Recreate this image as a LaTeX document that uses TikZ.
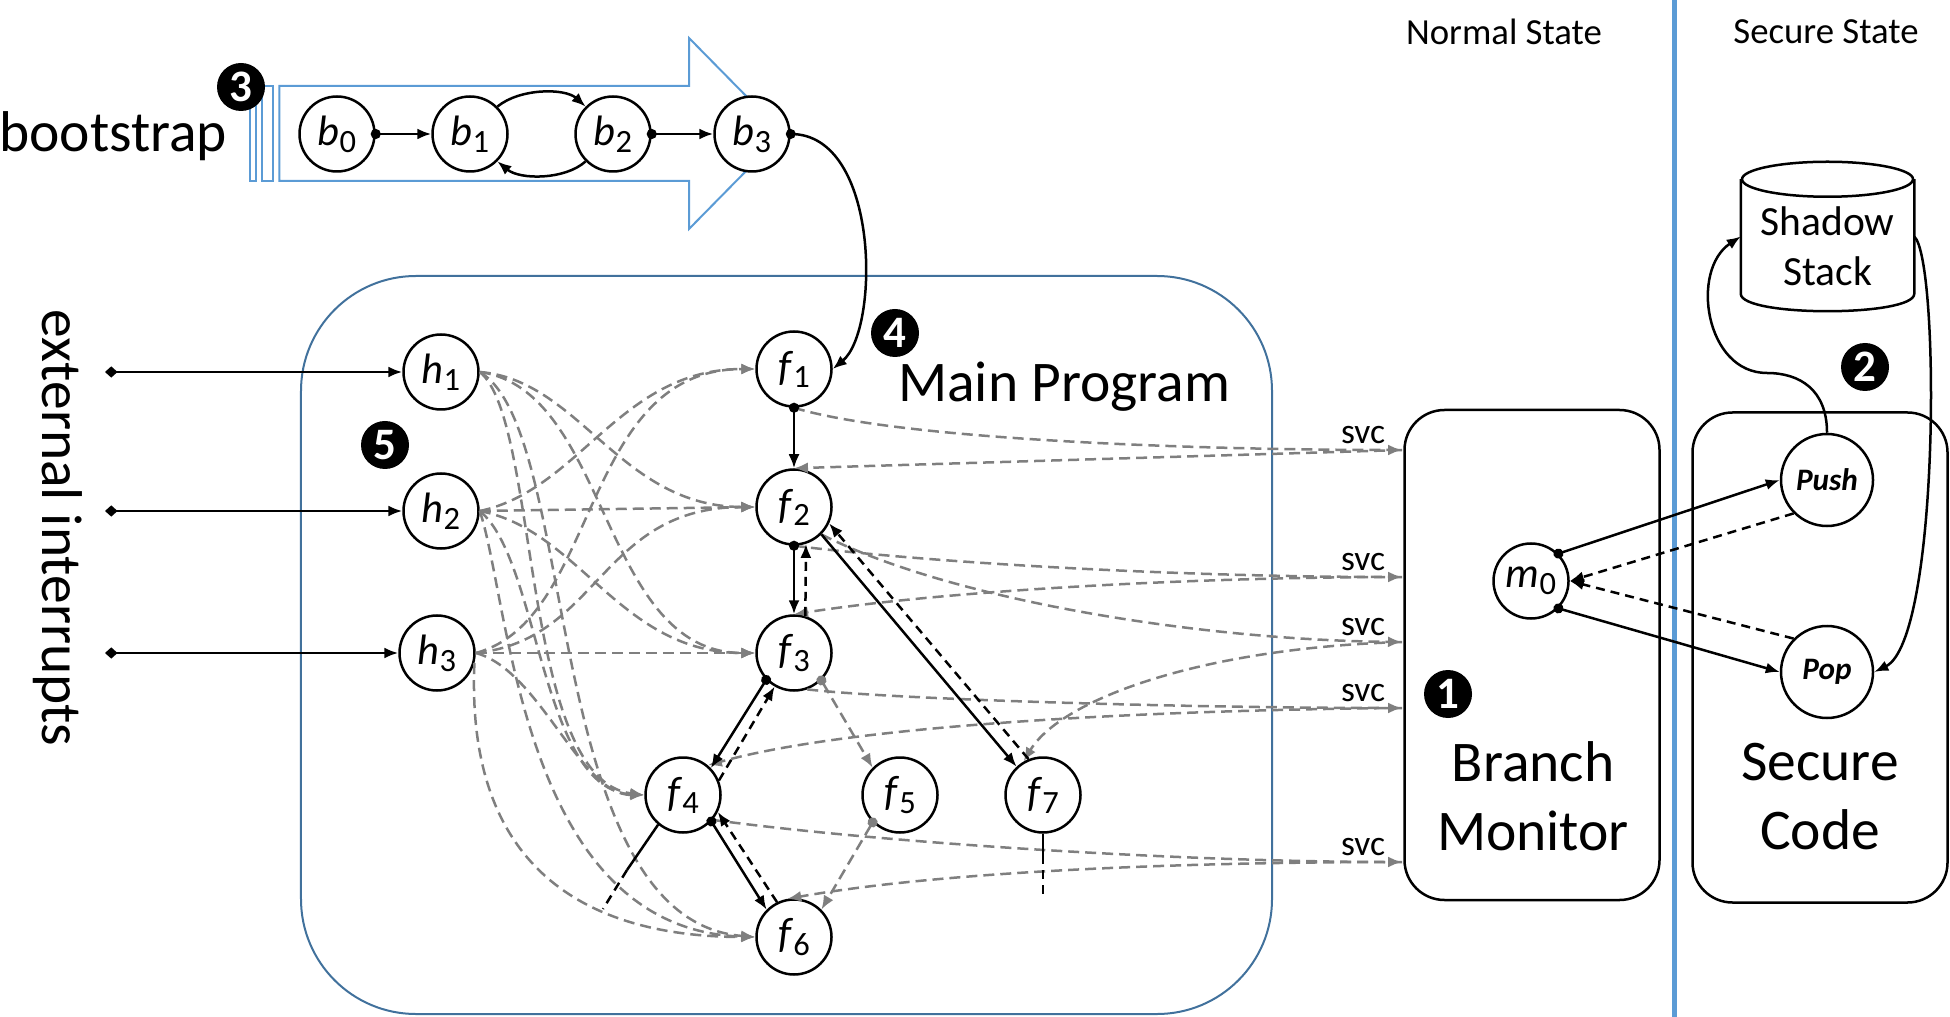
\documentclass[tikz,border=0pt]{standalone}
\usepackage{fontspec}
\setmainfont{Carlito}
\usetikzlibrary{arrows.meta}
\definecolor{arrowblue}{HTML}{5B9BD5}
\definecolor{boxblue}{HTML}{41719C}
\definecolor{irqgray}{HTML}{7F7F7F}
\newcommand{\lbl}[2]{\textit{#1}\raisebox{-0.35ex}{\fontsize{13}{13}\selectfont #2}}
\tikzset{every picture/.style={line width=1pt},
  fn/.style={draw, circle, fill=white, minimum size=30pt, inner sep=0pt, font=\fontsize{17}{17}\selectfont},
  pp/.style={fn, minimum size=36.8pt, font=\fontsize{12.5}{12.5}\selectfont\bfseries\itshape},
  numc/.style={circle, fill=black, text=white, minimum size=19.2pt, inner sep=0pt, font=\fontsize{18}{18}\selectfont\bfseries},
  bigtxt/.style={inner sep=0pt, font=\fontsize{23}{27.6}\selectfont},
  statel/.style={inner sep=0pt, font=\fontsize{14.7}{17}\selectfont},
  svclbl/.style={inner sep=0pt, xshift=-15.6pt, yshift=6pt, font=\fontsize{14.2}{16}\selectfont},
  codebox/.style={draw, rounded corners=16pt, minimum width=102pt, minimum height=196pt},
  call/.style={-{Latex[length=5.6pt,width=4.4pt]}},
  dcall/.style={{Circle[length=4pt]}-{Latex[length=5.6pt,width=4.4pt]}, shorten <=-2pt},
  ret/.style={call, dash pattern=on 3.6pt off 2.4pt},
  irq/.style={irqgray, dash pattern=on 4.4pt off 2.4pt, -{Latex[length=5.6pt,width=4.4pt]}},
  gdot/.style={irq, {Circle[length=4pt]}-{Latex[length=5.6pt,width=4.4pt]}, shorten <=-2pt}
}
\begin{document}
\begin{tikzpicture}[x=0.4pt,y=0.4pt,yscale=-1,xscale=1]
\useasboundingbox (0,0) rectangle (1950,1017);

%Straight Lines: state border
\draw [arrowblue, line width=2pt] (1674.5,0) -- (1674.5,1017);
\node [statel] (normal) at (1504,32) {Normal State};
\node [statel] (secure) at (1826,32) {Secure State};

%Shape: bootstrap arrow
\draw [arrowblue, line width=0.8pt] (250,86) rectangle (256,181);
\draw [arrowblue, line width=0.8pt] (261.7,86) rectangle (273.3,181);
\draw [arrowblue, line width=0.8pt] (279.3,86) -- (689,86) -- (689,38) -- (783,133.5) -- (689,229) -- (689,181) -- (279.3,181) -- cycle;
\node [bigtxt, anchor=base west] (boot) at (-2,152) {bootstrap};
\node [numc] (n3) at (241,87) {3};

\node [fn] (b0) at (337,134) {\lbl{b}{0}};
\node [fn] (b1) at (470,134) {\lbl{b}{1}};
\node [fn] (b2) at (613,134) {\lbl{b}{2}};
\node [fn] (b3) at (752,134) {\lbl{b}{3}};
\draw [dcall] (b0.east) -- (b1.west);
\draw [call] (b1.45) .. controls (520,88) and (565,88) .. (b2.135);
\draw [call] (b2.225) .. controls (565,180) and (520,180) .. (b1.-45);
\draw [dcall] (b2.east) -- (b3.west);

%Shape: Main Program box
\node [draw=boxblue, line width=0.8pt, rounded corners=46pt, minimum width=388.4pt, minimum height=295.2pt] (main) at (786.5,645) {};
\node [bigtxt, anchor=base west] (mainl) at (897,402) {Main Program};
\node [numc] (n4) at (895,333) {4};
\node [numc] (n5) at (385,445) {5};

%Shape: Branch Monitor and Secure Code boxes
\node [codebox] (monitor) at (1532,655) {};
\node [codebox] (seccode) at (1820,657.5) {};
\node [bigtxt, align=center] (monl) at (1533,796) {Branch\\Monitor};
\node [bigtxt, align=center] (secl) at (1820,797) {Secure\\Code};
\node [numc] (n1) at (1448,694) {1};
\node [numc] (n2) at (1865,367) {2};

%Shape: Shadow Stack
\node [minimum width=68.4pt, minimum height=44.8pt, inner sep=0pt] (stack) at (1827.5,236.5) {};
\draw (stack.north west) -- (stack.south west) .. controls +(0,23.3) and +(0,23.3) .. (stack.south east) -- (stack.north east);
\draw (stack.north) ellipse [x radius=85.5, y radius=17.5];
\node [inner sep=0pt, align=center, font=\fontsize{16.6}{20}\selectfont] (stackl) at (1827.5,246.5) {Shadow\\Stack};

% handlers and functions
\node [fn] (h1) at (441,372) {\lbl{h}{1}};
\node [fn] (h2) at (441,511) {\lbl{h}{2}};
\node [fn] (h3) at (437,653) {\lbl{h}{3}};
\node [fn] (f1) at (794,369) {\lbl{f}{1}};
\node [fn] (f2) at (794,507) {\lbl{f}{2}};
\node [fn] (f3) at (794,653) {\lbl{f}{3}};
\node [fn] (f4) at (683,795) {\lbl{f}{4}};
\node [fn] (f5) at (900,795) {\lbl{f}{5}};
\node [fn] (f7) at (1043,795) {\lbl{f}{7}};
\node [fn] (f6) at (794,937) {\lbl{f}{6}};
\node [fn] (m0) at (1531,581) {\lbl{m}{0}};
\node [pp] (push) at (1827,480) {Push};
\node [pp] (pop) at (1827,672) {Pop};

% external interrupts
\node [bigtxt, rotate=-90] (ext) at (58,528) {external interrupts};
\coordinate (in1) at (105,372);
\coordinate (in2) at (105,511);
\coordinate (in3) at (105,653);
\draw [{Diamond[length=5pt,width=4.5pt]}-{Latex[length=5.6pt,width=4.4pt]}] (in1) -- (h1.west);
\draw [{Diamond[length=5pt,width=4.5pt]}-{Latex[length=5.6pt,width=4.4pt]}] (in2) -- (h2.west);
\draw [{Diamond[length=5pt,width=4.5pt]}-{Latex[length=5.6pt,width=4.4pt]}] (in3) -- (h3.west);

%Curve Lines: handler entries
\draw [irq] (h1.east) .. controls (580,380) and (620,507) .. (f2.west);
\draw [irq] (h1.east) .. controls (610,390) and (600,653) .. (f3.west);
\draw [irq] (h1.east) .. controls (540,420) and (520,780) .. (f4.west);
\draw [irq] (h1.east) .. controls (580,430) and (540,920) .. (f6.west);
\draw [irq] (h2.east) .. controls (580,490) and (620,369) .. (f1.west);
\draw [irq] (h2.east) -- (f2.west);
\draw [irq] (h2.east) .. controls (580,530) and (620,653) .. (f3.west);
\draw [irq] (h2.east) .. controls (540,560) and (540,790) .. (f4.west);
\draw [irq] (h2.east) .. controls (510,600) and (520,930) .. (f6.west);
\draw [irq] (h3.east) .. controls (600,620) and (580,369) .. (f1.west);
\draw [irq] (h3.east) .. controls (600,640) and (600,507) .. (f2.west);
\draw [irq] (h3.east) -- (f3.west);
\draw [irq] (h3.east) .. controls (540,670) and (580,795) .. (f4.west);
\draw [irq] (h3.-15) .. controls (465,880) and (600,937) .. (f6.west);

%Straight Lines: svc calls
\coordinate (svc1) at (1402,450);
\coordinate (svc2) at (1402,577);
\coordinate (svc3) at (1402,642);
\coordinate (svc4) at (1402,708);
\coordinate (svc5) at (1402,862);
\node [svclbl] at (svc1) {svc};
\node [svclbl] at (svc2) {svc};
\node [svclbl] at (svc3) {svc};
\node [svclbl] at (svc4) {svc};
\node [svclbl] at (svc5) {svc};
\draw [irq] (f1.south) .. controls (900,440) and (1200,450) .. (svc1);
\draw [irq] (svc1) -- (f2.north);
\draw [irq] (f2.south) .. controls (950,565) and (1200,577) .. (svc2);
\draw [irq] (svc2) .. controls (1200,577) and (950,590) .. (f3.north);
\draw [irq] (f2.-45) .. controls (950,600) and (1200,640) .. (svc3);
\draw [irq] (svc3) .. controls (1200,648) and (1060,700) .. (f7.120);
\draw [irq] (f3.-70) .. controls (900,700) and (1200,708) .. (svc4);
\draw [irq] (svc4) .. controls (1150,710) and (850,725) .. (f4.50);
\draw [irq] (f4.-40) .. controls (900,845) and (1200,862) .. (svc5);
\draw [irq] (svc5) .. controls (1200,862) and (950,870) .. (f6.100);
\draw [gdot] (f3.-45) -- (f5.135);
\draw [gdot] (f5.225) -- (f6.45);

%Straight Lines: calls and returns
\draw [call] (b3.east) .. controls (880,134) and (880,330) .. (f1.east);
\fill (b3.east) circle (2pt);
\draw [dcall] (f1.south) -- (f2.north);
\draw [dcall] (f2.south) -- (f3.north);
\draw [ret] (f3.73) -- (f2.-72);
\draw [call] (f2.-45) -- (f7.133);
\draw [ret] (f7.112) -- (f2.-25);
\draw [dcall] (f3.224) -- (f4.44);
\draw [ret] (f4.22) -- (f3.-120);
\draw [dcall] (f4.-43) -- (f6.135);
\draw [ret] (f6.116) -- (f4.-26);
\coordinate (c1) at (627,870);
\coordinate (c2) at (603,909);
\draw (f4.-130) -- (c1);
\draw [dash pattern=on 3.6pt off 2.4pt] (c1) -- (c2);
\coordinate (c3) at (1043,855);
\coordinate (c4) at (1043,900);
\draw (f7.south) -- (c3);
\draw [dash pattern=on 3.6pt off 2.4pt] (c3) -- (c4);

%Straight Lines: monitor to secure code
\draw [dcall] (m0.45) -- (push.west);
\draw [dcall] (m0.-45) -- (pop.west);
\draw [ret] (push.225) -- (m0.east);
\draw [ret] (pop.135) -- (m0.east);
\draw [call] (push.north) .. controls (1827,390) and (1800,373) .. (1767,373) .. controls (1705,373) and (1690,270) .. (stack.west);
\draw [call] (stack.east) .. controls (1940,260) and (1940,640) .. (pop.east);
\end{tikzpicture}
\end{document}
